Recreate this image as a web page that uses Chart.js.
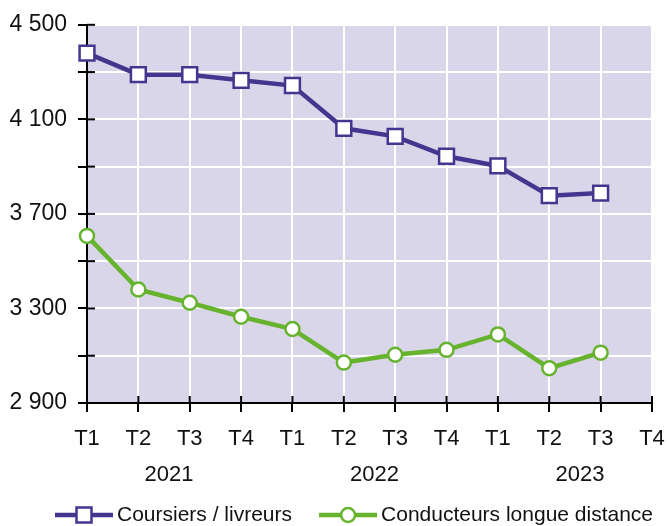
<html>
<head>
    <title>Coursiers et conducteurs</title>
    <script src="https://cdn.jsdelivr.net/npm/chart.js"></script>
</head>
<style>
    body{ margin: 0; background: #fff; }
</style>
<body>
<div style="width:667px;height:526px;"><canvas id="chartCanvas"></canvas></div>
</body>

<script>
// data
const quarters = ['T1', 'T2', 'T3', 'T4', 'T1', 'T2', 'T3', 'T4', 'T1', 'T2', 'T3', 'T4'];
const years = ['2021', '2022', '2023'];
const coursiers = [4380, 4289, 4289, 4265, 4243, 4062, 4028, 3944, 3903, 3777, 3788];
const conducteurs = [3607, 3380, 3324, 3265, 3213, 3071, 3104, 3125, 3190, 3047, 3113];
const yLabeled = [2900, 3300, 3700, 4100, 4500];

const PURPLE = '#46358f';
const GREEN = '#66b32e';
const FONT = '"Liberation Sans", Arial, sans-serif';

// lavender background + crossing tick marks + years + legend
const decor = {
    id: 'decor',
    beforeDraw(chart) {
        const {ctx, chartArea: a} = chart;
        ctx.save();
        ctx.fillStyle = '#dad6ea';
        ctx.fillRect(a.left, a.top, a.right - a.left, a.bottom - a.top);
        ctx.restore();
    },
    afterDatasetsDraw(chart) {
        const {ctx, chartArea: a, scales} = chart;
        ctx.save();
        ctx.strokeStyle = '#000';
        ctx.lineWidth = 2;
        // inner half of tick marks
        scales.y.ticks.forEach(t => {
            const y = scales.y.getPixelForValue(t.value);
            ctx.beginPath();
            ctx.moveTo(a.left, y);
            ctx.lineTo(a.left + 8, y);
            ctx.stroke();
        });
        quarters.forEach((q, i) => {
            const x = scales.x.getPixelForValue(i);
            ctx.beginPath();
            ctx.moveTo(x, a.bottom);
            ctx.lineTo(x, a.bottom - 7);
            ctx.stroke();
        });
        // year labels
        ctx.fillStyle = '#111';
        ctx.font = '22px ' + FONT;
        ctx.textAlign = 'center';
        ctx.textBaseline = 'middle';
        years.forEach((yr, i) => {
            const x = scales.x.getPixelForValue(i * 4 + 1.5) + 5;
            ctx.fillText(yr, x, 475);
        });
        // legend
        const items = [
            {label: 'Coursiers / livreurs', color: PURPLE, style: 'rect'},
            {label: 'Conducteurs longue distance', color: GREEN, style: 'circle'}
        ];
        ctx.font = '21px ' + FONT;
        ctx.textAlign = 'left';
        let x = 55;
        const ly = 515;
        items.forEach(it => {
            ctx.strokeStyle = it.color;
            ctx.lineWidth = 4.5;
            ctx.beginPath();
            ctx.moveTo(x, ly);
            ctx.lineTo(x + 58, ly);
            ctx.stroke();
            ctx.fillStyle = '#fff';
            ctx.lineWidth = 2.5;
            ctx.beginPath();
            if (it.style === 'rect') {
                ctx.rect(x + 29 - 7.5, ly - 7.5, 15, 15);
            } else {
                ctx.arc(x + 29, ly, 7, 0, Math.PI * 2);
            }
            ctx.fill();
            ctx.stroke();
            ctx.fillStyle = '#111';
            ctx.fillText(it.label, x + 62, ly);
            x += 62 + ctx.measureText(it.label).width + 27;
        });
        ctx.restore();
    }
};

new Chart(document.getElementById('chartCanvas'), {
    type: 'line',
    data: {
        labels: quarters,
        datasets: [
            {
                label: 'Coursiers / livreurs',
                data: coursiers,
                borderColor: PURPLE,
                backgroundColor: '#fff',
                borderWidth: 4.5,
                pointStyle: 'rect',
                pointRadius: 10.5,
                pointBorderWidth: 2.5,
                tension: 0
            },
            {
                label: 'Conducteurs longue distance',
                data: conducteurs,
                borderColor: GREEN,
                backgroundColor: '#fff',
                borderWidth: 4.5,
                pointStyle: 'circle',
                pointRadius: 7,
                pointBorderWidth: 2.5,
                tension: 0
            }
        ]
    },
    options: {
        responsive: true,
        maintainAspectRatio: false,
        animation: false,
        layout: { padding: { top: 24, right: 15, left: 0, bottom: 0 } },
        plugins: {
            legend: { display: false },
            tooltip: { enabled: false }
        },
        scales: {
            x: {
                offset: false,
                grid: { color: '#fff', lineWidth: 2, tickColor: '#000', tickLength: 9, drawOnChartArea: true },
                border: { color: '#000', width: 2 },
                ticks: { color: '#111', font: { family: FONT, size: 22 }, padding: 14, maxRotation: 0, autoSkip: false },
                afterFit(scale) { scale.height = 123; scale.paddingRight = 0; scale.paddingLeft = 0; }
            },
            y: {
                min: 2900,
                max: 4500,
                grid: { color: '#fff', lineWidth: 2, tickColor: '#000', tickLength: 9 },
                border: { color: '#000', width: 2 },
                ticks: {
                    stepSize: 200,
                    color: '#111',
                    padding: 11,
                    font: { family: FONT, size: 23 },
                    callback: v => yLabeled.includes(v) ? v.toLocaleString('fr-FR').replace(/\s/g, ' ') : ''
                },
                afterFit(scale) { scale.width = 87; }
            }
        }
    },
    plugins: [decor]
});
</script>
</html>
